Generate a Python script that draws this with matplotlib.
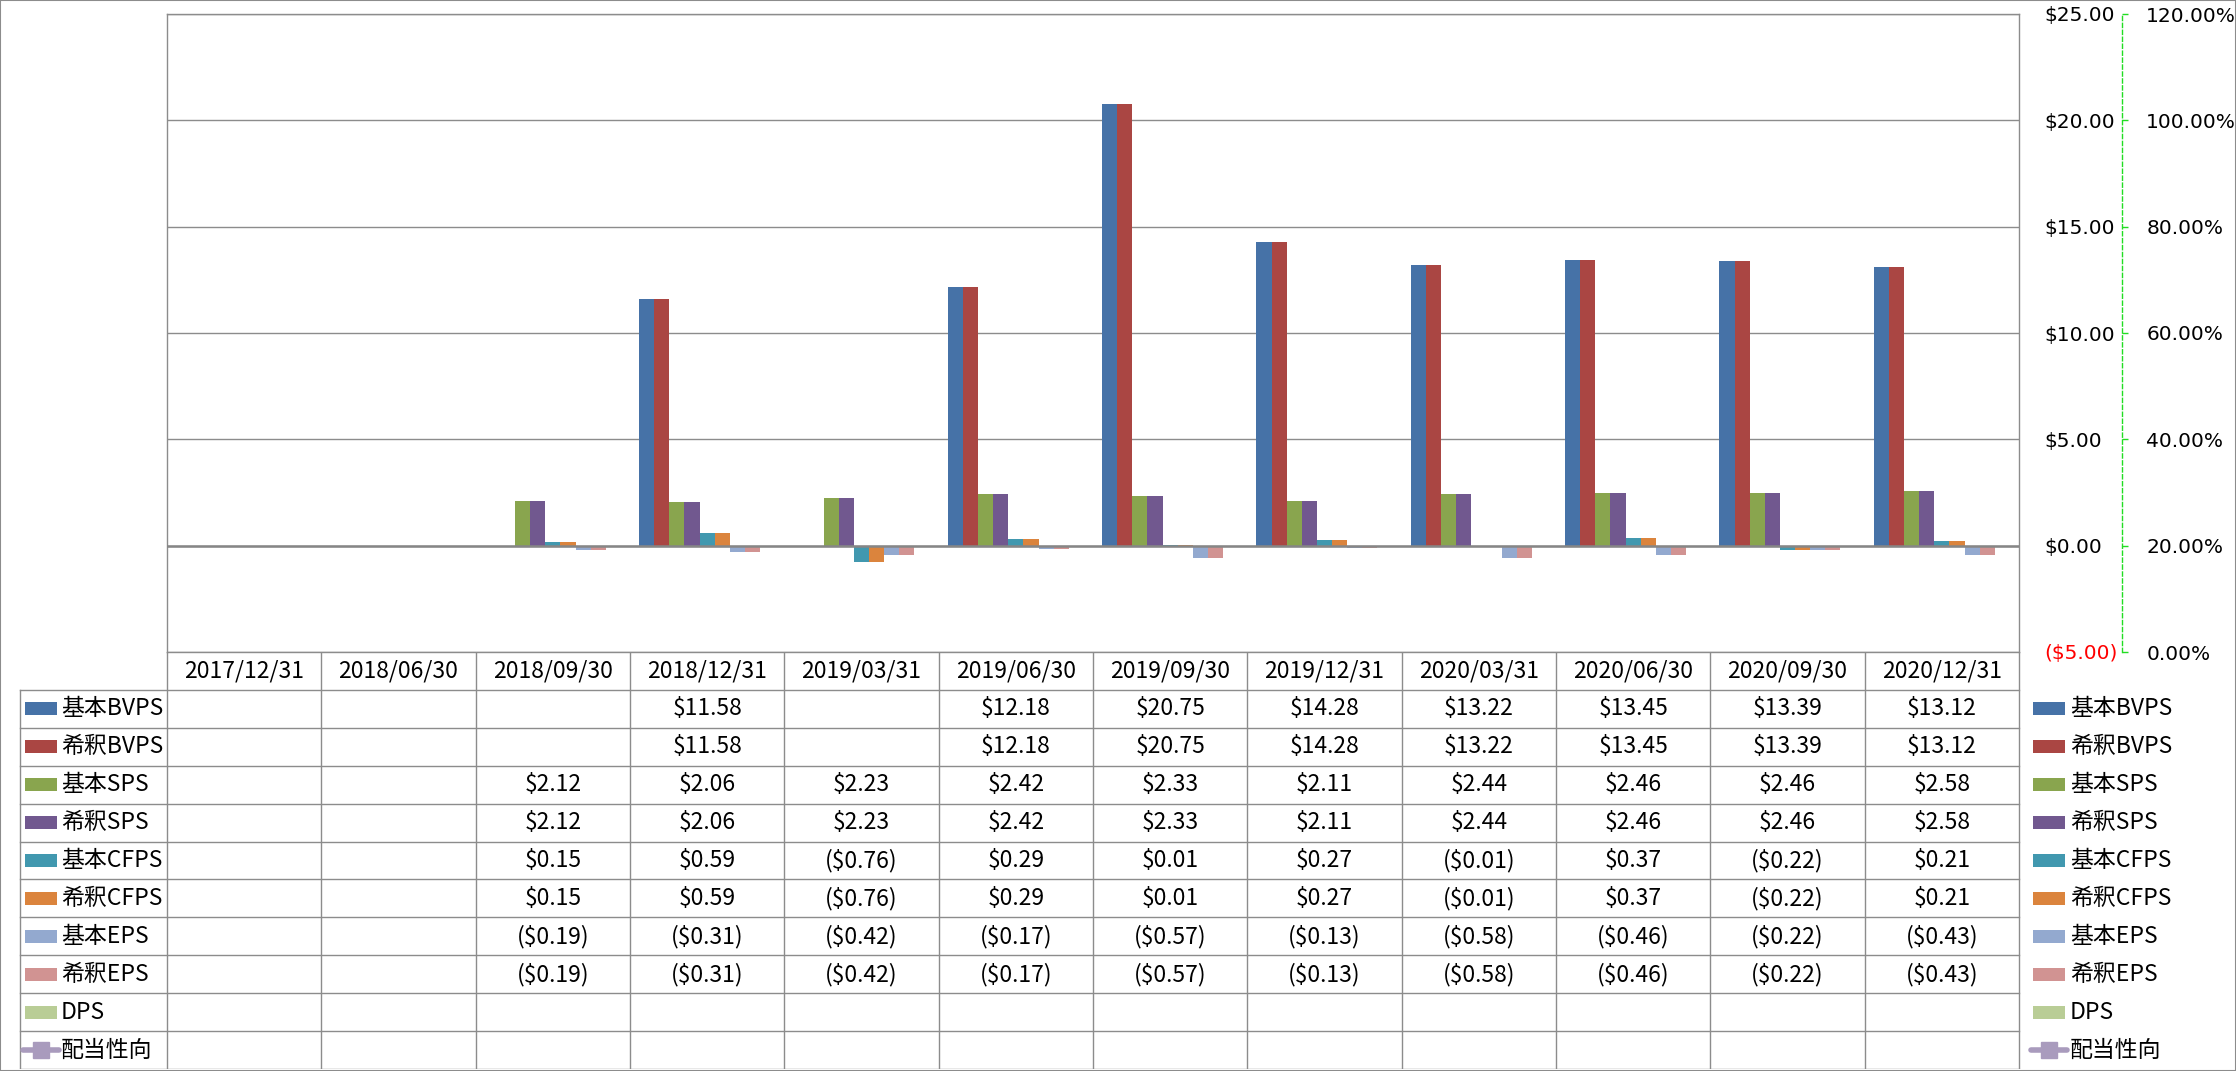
import numpy as np
import matplotlib

matplotlib.use("Agg")
import matplotlib.pyplot as plt
from matplotlib.patches import Rectangle, FancyBboxPatch

plt.rcParams["font.family"] = ["Noto Sans CJK JP", "DejaVu Sans"]

dates = ["2017/12/31", "2018/06/30", "2018/09/30", "2018/12/31", "2019/03/31", "2019/06/30",
         "2019/09/30", "2019/12/31", "2020/03/31", "2020/06/30", "2020/09/30", "2020/12/31"]
nan = np.nan
bvps = [nan, nan, nan, 11.58, nan, 12.18, 20.75, 14.28, 13.22, 13.45, 13.39, 13.12]
bvps_dil = [nan, nan, nan, 11.58, nan, 12.18, 20.75, 14.28, 13.22, 13.45, 13.39, 13.12]
sps = [nan, nan, 2.12, 2.06, 2.23, 2.42, 2.33, 2.11, 2.44, 2.46, 2.46, 2.58]
sps_dil = [nan, nan, 2.12, 2.06, 2.23, 2.42, 2.33, 2.11, 2.44, 2.46, 2.46, 2.58]
cfps = [nan, nan, 0.15, 0.59, -0.76, 0.29, 0.01, 0.27, -0.01, 0.37, -0.22, 0.21]
cfps_dil = [nan, nan, 0.15, 0.59, -0.76, 0.29, 0.01, 0.27, -0.01, 0.37, -0.22, 0.21]
eps = [nan, nan, -0.19, -0.31, -0.42, -0.17, -0.57, -0.13, -0.58, -0.46, -0.22, -0.43]
eps_dil = [nan, nan, -0.19, -0.31, -0.42, -0.17, -0.57, -0.13, -0.58, -0.46, -0.22, -0.43]
dps = [nan] * 12
payout = [nan] * 12  # 配当性向, secondary axis (no data)

bar_names = ["基本BVPS", "希釈BVPS", "基本SPS", "希釈SPS", "基本CFPS", "希釈CFPS", "基本EPS", "希釈EPS", "DPS"]
bar_data = [bvps, bvps_dil, sps, sps_dil, cfps, cfps_dil, eps, eps_dil, dps]
bar_colors = ["#4672A7", "#AA4643", "#89A54E", "#71588F", "#4198AF", "#DB843D", "#93A9CF", "#D19392", "#B9CD96"]
line_name = "配当性向"
line_color = "#A99BBD"

# --- layout in pixels of the 2236x1071 canvas
W, H = 2236, 1071
PL, PR, PT, PB = 167, 2019, 14, 652
TB = 1069
LAB_L = 20
GRAY = "#8c8c8c"

fig = plt.figure(figsize=(W / 100, H / 100), dpi=100)
fig.patches.append(Rectangle((0, 0), 1, 1, transform=fig.transFigure, fill=False, ec=GRAY, lw=1.5))

ax = fig.add_axes([PL / W, 1 - PB / H, (PR - PL) / W, (PB - PT) / H])
ax2 = ax.twinx()
x = np.arange(len(dates))
bw = 0.098
nb = len(bar_data)
for k, (vals, col) in enumerate(zip(bar_data, bar_colors)):
    ax.bar(x + (k - (nb - 1) / 2) * bw, vals, width=bw, color=col, lw=0, zorder=2)
ax.axhline(0, color="#868686", lw=1.8, zorder=3)
ax.set_xlim(-0.5, len(dates) - 0.5)
ax.set_ylim(-5, 25)
ax.set_xticks([])
yt = np.arange(-5, 26, 5)
ax.yaxis.tick_right()
ax.tick_params(axis="y", length=0, pad=18.5, labelsize=14.5, labelfontfamily="DejaVu Sans")
ax.set_yticks(yt)
ax.set_yticklabels([f"${v:.2f}" if v >= 0 else f"(${-v:.2f})" for v in yt])
for lbl, v in zip(ax.get_yticklabels(), yt):
    if v < 0:
        lbl.set_color("red")
ax.grid(axis="y", color=GRAY, lw=1, zorder=1)
ax.set_axisbelow(True)
for s in ax.spines.values():
    s.set_color(GRAY)
    s.set_linewidth(1)

# secondary axis for 配当性向
ax2.plot(x, payout, color=line_color, marker="s")
ax2.set_ylim(0, 1.2)
for s in ("left", "top", "bottom"):
    ax2.spines[s].set_visible(False)
ax2.spines["right"].set_position(("axes", (2122 - PL) / (PR - PL)))
ax2.spines["right"].set_color("#22dd22")
ax2.spines["right"].set_linestyle((0, (3, 2)))
ax2.spines["right"].set_linewidth(1)
ax2.tick_params(axis="y", color="#22dd22", length=4.5, width=1, pad=13,
                labelsize=14.5, labelfontfamily="DejaVu Sans")
pt = np.arange(0, 1.21, 0.2)
ax2.set_yticks(pt)
ax2.set_yticklabels([f"{v * 100:.2f}%" for v in pt])

# --- data table below the plot
unit = (PR - PL) / len(dates)


def u(px):
    return -0.5 + (px - PL) / unit


tab = fig.add_axes([0, 1 - TB / H, 1, (TB - PB) / H])
nrows = len(bar_names) + 2
tab.set_xlim(u(0), u(W))
tab.set_ylim(nrows, 0)
tab.axis("off")
xl = u(LAB_L)
xr = len(dates) - 0.5
for r in range(1, nrows + 1):
    tab.plot([xl, xr], [r, r], color=GRAY, lw=1)
for i in range(len(dates) + 1):
    tab.plot([i - 0.5, i - 0.5], [0, nrows], color=GRAY, lw=1)
tab.plot([xl, xl], [1, nrows], color=GRAY, lw=1)

fs = 16.5
for i, d in enumerate(dates):
    tab.text(i, 0.5, d, ha="center", va="center", fontsize=fs)


def fmt(v):
    if np.isnan(v):
        return ""
    return f"${v:.2f}" if v >= 0 else f"(${-v:.2f})"


names = bar_names + [line_name]
all_data = bar_data + [payout]
for r, (name, vals) in enumerate(zip(names, all_data)):
    yc = r + 1.5
    for i, v in enumerate(vals):
        tab.text(i, yc, fmt(v), ha="center", va="center", fontsize=fs)
    for sx, tx in ((25, 61), (2033, 2070)):
        if r < len(bar_names):
            tab.add_patch(Rectangle((u(sx), yc - 0.17), u(sx + 32) - u(sx), 0.34, color=bar_colors[r], lw=0))
        else:
            tab.plot([u(sx - 2), u(sx + 34)], [yc, yc], color=line_color, lw=4, solid_capstyle="round")
            tab.plot([u(sx + 16)], [yc], marker="s", markersize=11, color=line_color)
        tab.text(u(tx), yc, name, ha="left", va="center", fontsize=fs)

fig.savefig("out.png", dpi=100)
